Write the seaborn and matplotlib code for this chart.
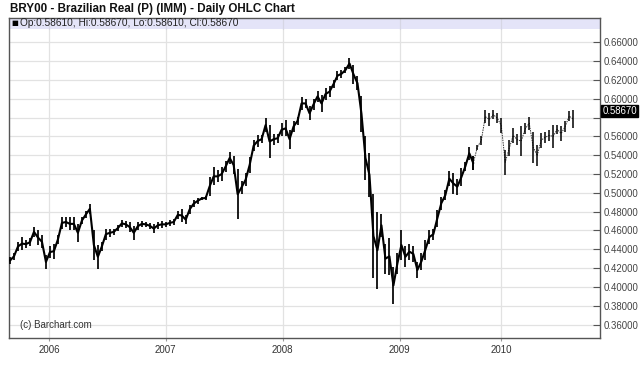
import numpy as np
import pandas as pd
import matplotlib
matplotlib.use("Agg")
import matplotlib.pyplot as plt
import seaborn as sns
from matplotlib.patches import Rectangle

# ---------------- data ----------------
title = "BRY00 - Brazilian Real (P) (IMM) - Daily OHLC Chart"
legend_text = "Op:0.58610, Hi:0.58670, Lo:0.58610, Cl:0.58670"
last_price = 0.58670
copyright_text = "(c) Barchart.com"
year_labels = ["2006", "2007", "2008", "2009", "2010"]
year_start_bar = [9.75, 39.0, 68.25, 97.6, 122.9]
y_ticks = [0.36, 0.38, 0.40, 0.42, 0.44, 0.46, 0.48, 0.50, 0.52, 0.54,
           0.56, 0.58, 0.60, 0.62, 0.64, 0.66]
hidden_tick = 0.58  # covered by the last-price marker in the reference
sparse_from_bar = 116  # thinner, dotted-looking bars from here on

high = [0.432, 0.436, 0.448, 0.453, 0.450, 0.452, 0.464, 0.460, 0.455, 0.434,
        0.443, 0.446, 0.455, 0.474, 0.474, 0.474, 0.474, 0.467, 0.474, 0.481,
        0.488, 0.460, 0.445, 0.448, 0.462, 0.462, 0.462, 0.466, 0.471, 0.470,
        0.469, 0.465, 0.469, 0.470, 0.469, 0.468, 0.467, 0.469, 0.470, 0.469,
        0.471, 0.472, 0.481, 0.483, 0.476, 0.487, 0.492, 0.495, 0.496, 0.497,
        0.517, 0.527, 0.524, 0.527, 0.534, 0.543, 0.539, 0.525, 0.513, 0.521,
        0.538, 0.556, 0.561, 0.561, 0.579, 0.572, 0.563, 0.563, 0.574, 0.577,
        0.567, 0.576, 0.581, 0.602, 0.600, 0.592, 0.600, 0.608, 0.604, 0.611,
        0.613, 0.620, 0.629, 0.631, 0.634, 0.643, 0.636, 0.624, 0.603, 0.560,
        0.542, 0.499, 0.480, 0.478, 0.446, 0.452, 0.421, 0.436, 0.460, 0.443,
        0.446, 0.443, 0.427, 0.436, 0.450, 0.460, 0.462, 0.482, 0.496, 0.503,
        0.523, 0.521, 0.515, 0.526, 0.533, 0.549, 0.539, 0.551, 0.560, 0.588,
        0.585, 0.588, 0.585, 0.579, 0.546, 0.556, 0.569, 0.562, 0.571, 0.574,
        0.581, 0.565, 0.551, 0.564, 0.565, 0.567, 0.572, 0.572, 0.571, 0.576,
        0.587, 0.588]

low = [0.424, 0.429, 0.438, 0.439, 0.441, 0.443, 0.453, 0.445, 0.441, 0.419,
       0.431, 0.430, 0.446, 0.462, 0.464, 0.460, 0.460, 0.448, 0.467, 0.473,
       0.478, 0.429, 0.419, 0.438, 0.450, 0.453, 0.455, 0.459, 0.464, 0.463,
       0.458, 0.450, 0.460, 0.464, 0.464, 0.462, 0.457, 0.462, 0.463, 0.464,
       0.465, 0.466, 0.472, 0.469, 0.467, 0.478, 0.485, 0.488, 0.492, 0.492,
       0.497, 0.508, 0.511, 0.513, 0.522, 0.531, 0.520, 0.472, 0.499, 0.507,
       0.521, 0.544, 0.549, 0.553, 0.565, 0.537, 0.551, 0.553, 0.560, 0.560,
       0.547, 0.565, 0.572, 0.588, 0.590, 0.577, 0.588, 0.597, 0.586, 0.599,
       0.602, 0.611, 0.620, 0.622, 0.627, 0.632, 0.616, 0.609, 0.565, 0.514,
       0.496, 0.409, 0.398, 0.453, 0.414, 0.413, 0.382, 0.414, 0.429, 0.421,
       0.429, 0.427, 0.409, 0.418, 0.429, 0.446, 0.450, 0.464, 0.482, 0.492,
       0.507, 0.499, 0.498, 0.507, 0.523, 0.535, 0.524, 0.546, 0.551, 0.574,
       0.571, 0.578, 0.574, 0.564, 0.519, 0.539, 0.553, 0.551, 0.539, 0.562,
       0.567, 0.532, 0.528, 0.548, 0.553, 0.555, 0.548, 0.563, 0.555, 0.565,
       0.576, 0.569]

# ---------------- style ----------------
sns.set_theme(style="white")
plt.rcParams["font.family"] = ["Liberation Sans", "DejaVu Sans"]

df = pd.DataFrame({"bar": np.arange(len(high)), "high": high, "low": low})
df["mid"] = (df["high"] + df["low"]) / 2
dense = df[df["bar"] <= sparse_from_bar]
sparse = df[df["bar"] >= sparse_from_bar]

fig = plt.figure(figsize=(6.4, 3.75), dpi=100)
ax = fig.add_axes([9 / 640, 1 - 338 / 375, (599.5 - 9) / 640, (338 - 18) / 375])

ymin, ymax = 0.3457, 0.6858
ax.set_ylim(ymin, ymax)
ax.set_xlim(-0.25, 147.6)

# grid
for yv in y_ticks:
    ax.axhline(yv, color="#e2e2e2", lw=0.9, zorder=0)
for xv in year_start_bar:
    ax.axvline(xv, color="#e2e2e2", lw=0.9, zorder=0)

# legend band
band_frac = (29 - 18) / (338 - 18)
ax.add_patch(Rectangle((0, 1 - band_frac), 1, band_frac, transform=ax.transAxes,
                       facecolor="#e4e4f8", edgecolor="none", zorder=1))
for xv in year_start_bar:
    ax.plot([xv, xv], [ymax - band_frac * (ymax - ymin), ymax], color="#d6d6e4",
            lw=0.9, zorder=1.5)

# bars (high-low) joined by a jagged line through their middles
ax.vlines(dense["bar"], dense["low"], dense["high"], color="black", lw=1.25, zorder=3)
sns.lineplot(data=dense, x="bar", y="mid", color="black", lw=1.5, ax=ax, zorder=3)
ax.vlines(sparse["bar"], sparse["low"], sparse["high"], color="black", lw=1.1, zorder=3)
sns.lineplot(data=sparse, x="bar", y="mid", color="#333333", lw=0.7, ax=ax,
             zorder=2.8, linestyle=(0, (1.5, 1)))

# axes styling
for s in ax.spines.values():
    s.set_color("#555555")
    s.set_linewidth(1.0)
ax.yaxis.tick_right()
ax.set_yticks(y_ticks)
ax.set_yticklabels(["" if abs(v - hidden_tick) < 1e-9 else f"{v:.5f}" for v in y_ticks])
ax.set_xticks(year_start_bar)
ax.set_xticklabels(year_labels)
ax.tick_params(axis="y", which="both", right=True, direction="in", length=5,
               width=0.8, color="#555555", labelsize=6.9, labelcolor="#444444", pad=3)
ax.tick_params(axis="x", bottom=True, direction="out", length=2, width=0.8,
               color="#999999", labelsize=7, labelcolor="#333333", pad=3)
ax.set_xlabel("")
ax.set_ylabel("")

# last price marker
ax.text(1.0045, last_price, f"{last_price:.5f}", transform=ax.get_yaxis_transform(),
        ha="left", va="center", fontsize=6.9, color="white",
        bbox=dict(boxstyle="square,pad=0.1", facecolor="black", edgecolor="black"),
        zorder=5, clip_on=False)

# legend text
ax.text(0.004, 1 - band_frac / 2, "\u25A0", transform=ax.transAxes, ha="left",
        va="center", fontsize=5.2, color="black", zorder=4, family=["DejaVu Sans"])
ax.text(0.019, 1 - band_frac / 2, legend_text, transform=ax.transAxes, ha="left",
        va="center", fontsize=7.3, color="#222222", zorder=4)

ax.text(0.018, 0.04, copyright_text, transform=ax.transAxes, ha="left",
        va="center", fontsize=7, color="#333333", zorder=4)

fig.text(10 / 640, 1 - 9 / 375, title, ha="left", va="center", fontsize=8.4,
         fontweight="bold", color="#111111")

fig.savefig("out.png", dpi=100)
